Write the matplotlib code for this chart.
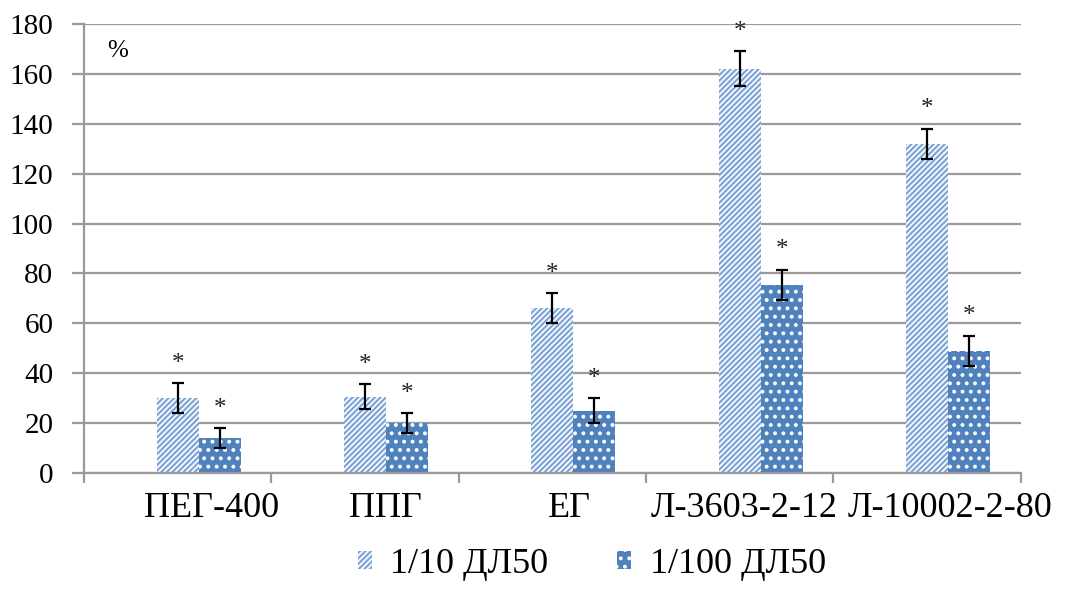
import numpy as np
import matplotlib.pyplot as plt
from matplotlib.ticker import MultipleLocator, FixedLocator, NullFormatter
from matplotlib.transforms import ScaledTranslation

plt.rcParams['font.family'] = ['Liberation Serif', 'DejaVu Serif']
plt.rcParams['hatch.linewidth'] = 1.6

# дані
categories = ['ПЕГ-400', 'ППГ', 'ЕГ', 'Л-3603-2-12', 'Л-10002-2-80']
dose_10 = [30, 30.5, 66, 162, 132]
err_10 = [6, 5, 6, 7, 6]
dose_100 = [14, 20, 25, 75.5, 49]
err_100 = [4, 4, 5, 6, 6]
series_names = ['1/10 ДЛ50', '1/100 ДЛ50']
label_shift = [13, -1, -4, -17, 2]  # px

fig = plt.figure(figsize=(10.7, 5.91), dpi=100)
ax = fig.add_axes([0.0785, 0.1997, 0.8755, 0.7596])

x = np.arange(len(categories))
w = 0.224  # три місця в групі, перше порожнє
x1 = x
x2 = x + w

blue = '#4f81bd'
ax.bar(x1, dose_10, w, color='white', edgecolor='#7fa4d8', hatch='//////',
       linewidth=0, label=series_names[0], zorder=2)
ax.bar(x2, dose_100, w, color=blue, edgecolor='white', hatch='..',
       linewidth=0, label=series_names[1], zorder=2)
ax.errorbar(x1, dose_10, yerr=err_10, fmt='none', ecolor='black',
            elinewidth=1.6, capsize=4, capthick=1.6, zorder=3)
ax.errorbar(x2, dose_100, yerr=err_100, fmt='none', ecolor='black',
            elinewidth=1.6, capsize=4, capthick=1.6, zorder=3)

# зірочки над планками похибок
for xs, vals, errs in [(x1, dose_10, err_10), (x2, dose_100, err_100)]:
    for xi, v, e in zip(xs, vals, errs):
        ax.annotate('*', (xi, v + e), xytext=(0, 6), textcoords='offset points',
                    ha='center', va='bottom', fontsize=18, color='#222222')

ax.set_xlim(-0.5, len(categories) - 0.5)
ax.set_ylim(0, 180)
ax.yaxis.set_major_locator(MultipleLocator(20))
ax.grid(axis='y', color='#9a9a9a', linewidth=1.6, zorder=0)
ax.set_axisbelow(True)

for s in ['top', 'right']:
    ax.spines[s].set_visible(False)
for s in ['left', 'bottom']:
    ax.spines[s].set_color('#9a9a9a')
    ax.spines[s].set_linewidth(1.6)

ax.tick_params(axis='y', length=9, width=1.6, color='#9a9a9a', labelsize=21, pad=13)
ax.xaxis.set_minor_locator(FixedLocator(np.arange(len(categories) + 1) - 0.5))
ax.xaxis.set_minor_formatter(NullFormatter())
ax.tick_params(axis='x', which='minor', length=7, width=1.6, color='#9a9a9a')
ax.set_xticks(x + w / 2)
ax.set_xticklabels(categories, fontsize=26)
ax.tick_params(axis='x', which='major', length=0, pad=14)

for lbl, dx in zip(ax.get_xticklabels(), label_shift):
    lbl.set_transform(lbl.get_transform() + ScaledTranslation(dx / 100, 0, fig.dpi_scale_trans))

ax.text(0.025, 0.965, '%', transform=ax.transAxes, fontsize=18, va='top', ha='left')

ax.legend(loc='upper center', bbox_to_anchor=(0.542, -0.11), ncol=2, frameon=False,
          fontsize=26, handlelength=0.4, handleheight=0.4, columnspacing=1.9,
          handletextpad=0.5, borderpad=0.2)

fig.savefig('out.png', dpi=100)
